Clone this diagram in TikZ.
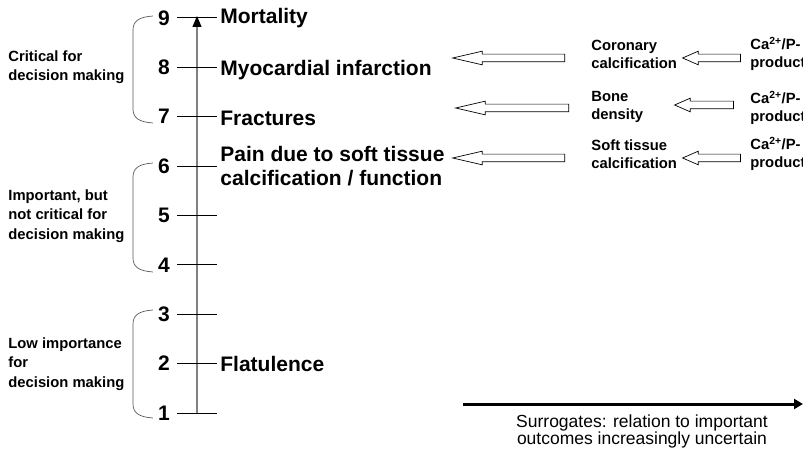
\documentclass[tikz,border=0pt]{standalone}
\usepackage{fontspec}
\setmainfont{Liberation Sans}
\usetikzlibrary{arrows.meta, shapes.arrows}

\begin{document}
\begin{tikzpicture}[x=1pt, y=-1pt, line width=0.8pt,
  num/.style={font=\fontsize{21}{24}\selectfont\bfseries, inner sep=0pt},
  outc/.style={font=\fontsize{21}{24.5}\selectfont\bfseries, anchor=west, align=left, inner sep=0pt},
  grp/.style={font=\fontsize{14.8}{19.5}\selectfont\bfseries, anchor=west, align=left, inner sep=0pt},
  surr/.style={font=\fontsize{14.8}{18}\selectfont\bfseries, anchor=west, align=left, inner sep=0pt},
  bigarrow/.style={single arrow, draw, line width=0.7pt, shape border rotate=180,
    inner sep=3.5pt, single arrow head extend=3pt, single arrow tip angle=26},
  smallarrow/.style={bigarrow, single arrow tip angle=47}]
  \useasboundingbox (0,0) rectangle (803,454);
  \clip (0,0) rectangle (803,454);
  % eje de importancia
  \coordinate (ax0) at (197,413);
  \coordinate (ax1) at (197,16);
  \draw[gray, line width=1.2pt, -{Triangle[length=11pt, width=9pt, color=black]}] (ax0)--(ax1);
  % marcas y numeros
  \foreach \k in {1,...,9}{
    \coordinate (t\k) at (197,{413-(\k-1)*49.4});
    \draw[line width=0.7pt] ([xshift=-20pt]t\k)--([xshift=20pt]t\k);
    \node[num] (n\k) at ([xshift=-33pt]t\k) {\k};
  }
  % desenlaces
  \node[outc] (o9) at (220,18) {Mortality};
  \node[outc] (o8) at (220,70) {Myocardial infarction};
  \node[outc] (o7) at (220,118) {Fractures};
  \node[outc] (o6) at (220,166) {Pain due to soft tissue\\calcification / function};
  \node[outc] (o2) at (220,364) {Flatulence};
  % llaves de los grupos
  \foreach \t/\b in {16/123, 163/272, 310/418}{
    \draw[gray!70!black, line width=0.7pt] (153,\t) .. controls (139,\t+1) and (133,\t+5) .. (133,\t+14)
      -- (133,\b-14) .. controls (133,\b-5) and (139,\b-1) .. (153,\b);
  }
  \node[grp] (g1) at (8,67) {Critical for\\decision making};
  \node[grp] (g2) at (8,216) {Important, but\\not critical for\\decision making};
  \node[grp] (g3) at (8,364) {Low importance\\for\\decision making};
  % sustitutos
  \node[surr] (s8) at (591,54) {Coronary\\calcification};
  \node[surr] (s7) at (591,107) {Bone\\density};
  \node[surr] (s6) at (591,154) {Soft tissue\\calcification};
  \node[surr] (c8) at (750,54) {Ca\textsuperscript{2+}/P-\\product};
  \node[surr] (c7) at (750,108) {Ca\textsuperscript{2+}/P-\\product};
  \node[surr] (c6) at (750,154) {Ca\textsuperscript{2+}/P-\\product};
  % flechas huecas
  \node[bigarrow, minimum height=112pt] (b8) at (517,58) {};
  \node[bigarrow, minimum height=113pt] (b7) at (520.5,108) {};
  \node[bigarrow, minimum height=112pt] (b6) at (517,158) {};
  \node[smallarrow, minimum height=58pt] (a8) at (716,58) {};
  \node[smallarrow, minimum height=59pt] (a7) at (708.5,105) {};
  \node[smallarrow, minimum height=58pt] (a6) at (716,158) {};
  % eje de sustitutos
  \coordinate (h0) at (463,404);
  \coordinate (h1) at (803,404);
  \draw[line width=3pt, -{Triangle[length=9pt, width=10pt]}] (h0)--(h1);
  \node[font=\fontsize{17.5}{17}\selectfont, align=center] (lab) at (642,431)
    {Surrogates: relation to important\\outcomes increasingly uncertain};
\end{tikzpicture}
\end{document}
